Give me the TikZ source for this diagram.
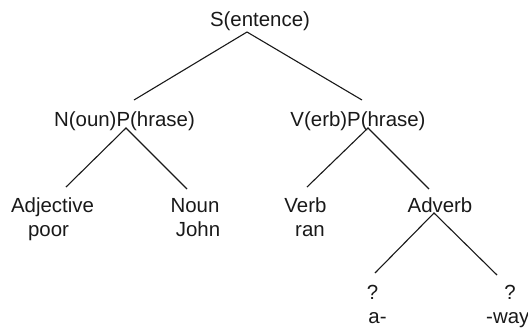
\documentclass[tikz,border=0pt]{standalone}
\usepackage{fontspec}
\setmainfont{Liberation Sans}
\begin{document}
\begin{tikzpicture}[x=1bp,y=-1bp,
  lbl/.style={inner sep=0pt, anchor=base, font=\fontsize{20.5}{24}\selectfont, text=black!90},
  branch/.style={draw=black!90, line width=1.1bp}]
\useasboundingbox (0,0) rectangle (528,328);
% labels
\node[lbl] (s) at (260,26) {S(entence)};
\node[lbl] (np) at (124.5,126) {N(oun)P(hrase)};
\node[lbl] (vp) at (358,126) {V(erb)P(hrase)};
\node[lbl] (adj) at (52.5,212) {Adjective};
\node[lbl] (poor) at (48.5,236) {poor};
\node[lbl] (noun) at (195,212) {Noun};
\node[lbl] (john) at (198,236) {John};
\node[lbl] (verb) at (305.5,212) {Verb};
\node[lbl] (ran) at (310,236) {ran};
\node[lbl] (adv) at (440,212) {Adverb};
\node[lbl] (q1) at (372.5,299) {?};
\node[lbl] (pa) at (377.5,323) {a-};
\node[lbl] (q2) at (510,299) {?};
\node[lbl, anchor=base west] (pway) at (486,323) {-way};
% branch end points
\coordinate (sA) at (247,32);
\coordinate (sL) at (134,100);
\coordinate (sR) at (362,100);
\coordinate (npA) at (126,128);
\coordinate (npL) at (66,187);
\coordinate (npR) at (187,189);
\coordinate (vpA) at (368,128);
\coordinate (vpL) at (307,187);
\coordinate (vpR) at (429,189);
\coordinate (advA) at (434,213);
\coordinate (advL) at (375,273);
\coordinate (advR) at (497,275);
% branches
\draw[branch] (sL) -- (sA) -- (sR);
\draw[branch] (npL) -- (npA) -- (npR);
\draw[branch] (vpL) -- (vpA) -- (vpR);
\draw[branch] (advL) -- (advA) -- (advR);
\end{tikzpicture}
\end{document}
